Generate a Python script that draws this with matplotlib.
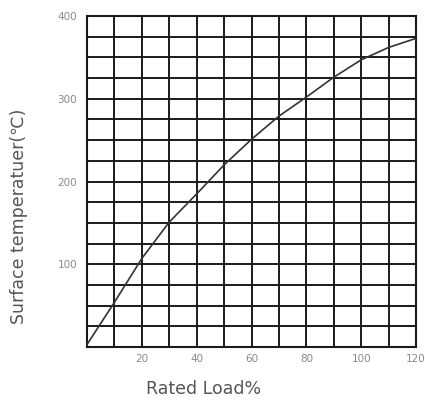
import matplotlib
matplotlib.use("Agg")
import matplotlib.pyplot as plt
import numpy as np

load_pct = [0, 10, 20, 30, 40, 50, 60, 70, 80, 90, 100, 110, 120]
surface_temp = [3, 54, 107, 151, 185, 220, 251, 279, 302, 326, 347, 362, 373]
x_ticks = [20, 40, 60, 80, 100, 120]
y_ticks = [100, 200, 300, 400]

fig = plt.figure(figsize=(4.25, 4.0), dpi=100)
ax = fig.add_axes([87/425, 1-347/400, (416-87)/425, (347-16)/400])

ax.set_xlim(0, 120)
ax.set_ylim(0, 400)
for gx in np.arange(10, 120, 10):
    ax.axvline(gx, color='#1a1a1a', linewidth=1.4, zorder=1)
for gy in np.arange(25, 400, 25):
    ax.axhline(gy, color='#1a1a1a', linewidth=1.4, zorder=1)
ax.set_xticks(x_ticks)
ax.set_yticks(y_ticks)
ax.set_xticklabels([str(v) for v in x_ticks])
ax.set_yticklabels([str(v) for v in y_ticks])
ax.tick_params(which='both', length=0)
ax.tick_params(axis='x', pad=5, labelsize=7.5, labelcolor='#8a8a8a')
ax.tick_params(axis='y', pad=7, labelsize=7.5, labelcolor='#8a8a8a')
for s in ax.spines.values():
    s.set_linewidth(1.5)
    s.set_color('#1a1a1a')

ax.plot(load_pct, surface_temp, color='#333333', linewidth=1.2, clip_on=False, zorder=3)

fig.text(204/425, 1-389/400, 'Rated Load%', ha='center', va='center',
         fontsize=12.5, color='#555555')
fig.text(19/425, 1-216/400, 'Surface temperatuer(℃)', ha='center', va='center',
         rotation=90, fontsize=12.5, color='#555555')

fig.savefig('out.png', dpi=100)
